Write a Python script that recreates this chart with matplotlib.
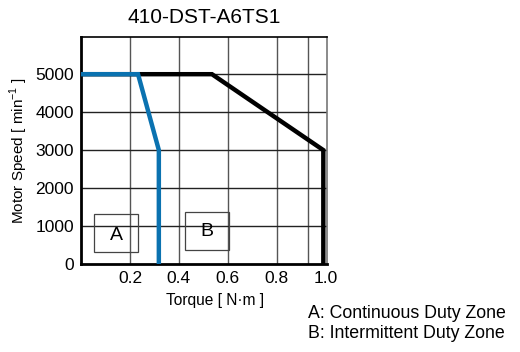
import matplotlib.pyplot as plt

plt.rcParams['font.family'] = ['Liberation Sans', 'DejaVu Sans']

title = "410-DST-A6TS1"

# intermittent (black) and continuous (blue) boundaries
peakTorque = [0.0, 0.535, 0.99, 0.99]
peakSpeed = [5000, 5000, 3000, 0]
contTorque = [0.0, 0.233, 0.318, 0.318]
contSpeed = [5000, 5000, 3000, 0]

xTicks = [0.2, 0.4, 0.6, 0.8, 1.0]
xTickLabels = ["0.2", "0.4", "0.6", "0.8", "1.0"]
yTicks = [0, 1000, 2000, 3000, 4000, 5000]
xGrid = [0.2, 0.4, 0.6, 0.8, 0.927]

fig = plt.figure(figsize=(5.2, 3.52), dpi=100)
ax = fig.add_axes([81 / 520, 1 - 264 / 352, 246 / 520, 227 / 352])

for gx in xGrid:
    ax.axvline(gx, color="#555555", lw=1.0, zorder=1)
for gy in yTicks[1:]:
    ax.axhline(gy, color="#222222", lw=1.0, zorder=1)

ax.plot(peakTorque, peakSpeed, color="black", lw=3.2, solid_joinstyle="miter", zorder=3)
ax.plot(contTorque, contSpeed, color="#0a72b0", lw=3.2, solid_joinstyle="miter", zorder=4)

# zone boxes
ax.add_patch(plt.Rectangle((0.053, 316), 0.18, 1000, fill=False, ec="#444444", lw=0.9, zorder=2))
ax.text(0.143, 760, "A", ha="center", va="center", fontsize=14)
ax.add_patch(plt.Rectangle((0.425, 368), 0.179, 1000, fill=False, ec="#444444", lw=0.9, zorder=2))
ax.text(0.5145, 860, "B", ha="center", va="center", fontsize=14)

ax.set_xlim(0, 1.005)
ax.set_ylim(0, 5980)
ax.set_xticks(xTicks)
ax.set_xticklabels(xTickLabels)
ax.set_yticks(yTicks)
ax.tick_params(length=0, labelsize=12.5, pad=5)

ax.spines["left"].set_linewidth(2)
ax.spines["bottom"].set_linewidth(2)
ax.spines["top"].set_linewidth(1.2)
ax.spines["right"].set_linewidth(1.2)
ax.spines["right"].set_color("#777777")

ax.set_xlabel("Torque [ N·m ]", fontsize=11.2, labelpad=5)
ax.xaxis.label.set_x(0.545)
ax.set_ylabel("Motor Speed [ min$^{\\mathregular{-1}}$ ]", fontsize=11, labelpad=4)
ax.set_title(title, fontsize=15, pad=10)

fig.text(308 / 520, 1 - 313 / 352, "A: Continuous Duty Zone", fontsize=12.8, va="center")
fig.text(308 / 520, 1 - 333 / 352, "B: Intermittent Duty Zone", fontsize=12.8, va="center")

plt.savefig("out.png", dpi=100)
